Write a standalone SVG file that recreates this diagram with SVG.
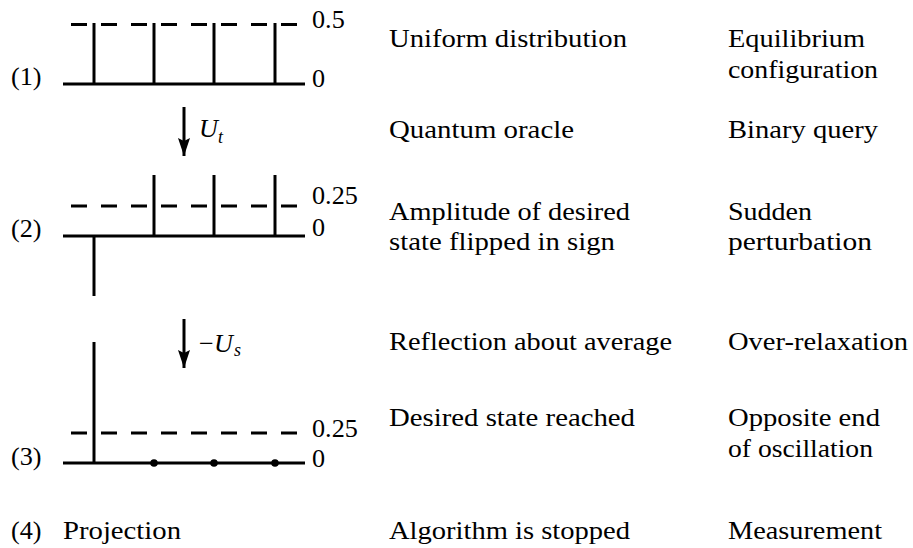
<svg xmlns="http://www.w3.org/2000/svg" width="913" height="548" viewBox="0 0 913 548">
<defs>
<style>
.ax{stroke:#000;stroke-width:3;fill:none}
.dash{stroke:#000;stroke-width:3;fill:none;stroke-dasharray:16 14}
.arr{stroke:#000;stroke-width:3;fill:none}
</style>
<marker id="ah" markerUnits="userSpaceOnUse" markerWidth="12" markerHeight="20" viewBox="0 0 12 20" refX="6" refY="18" orient="0">
<path d="M0,0 L6,3 L12,0 L6,18 Z" fill="#000"/>
</marker>
</defs>
<rect width="913" height="548" fill="#fff"/>

<g id="stage1">
<line class="ax" x1="63" y1="84" x2="305" y2="84"/>
<line class="dash" x1="71" y1="24.5" x2="298" y2="24.5"/>
<line class="ax" x1="94" y1="84" x2="94" y2="23"/>
<line class="ax" x1="154" y1="84" x2="154" y2="23"/>
<line class="ax" x1="214" y1="84" x2="214" y2="23"/>
<line class="ax" x1="275" y1="84" x2="275" y2="23"/>
<text x="11" y="85" font-family="Liberation Serif" font-size="26.2">(1)</text>
<text x="312" y="28" font-family="Liberation Serif" font-size="26.2">0.5</text>
<text x="312" y="87" font-family="Liberation Serif" font-size="26.2">0</text>
</g>

<g id="stage2">
<line class="ax" x1="63" y1="236" x2="305" y2="236"/>
<line class="dash" x1="71" y1="206" x2="298" y2="206"/>
<line class="ax" x1="94" y1="236" x2="94" y2="296"/>
<line class="ax" x1="154" y1="236" x2="154" y2="175"/>
<line class="ax" x1="214" y1="236" x2="214" y2="175"/>
<line class="ax" x1="275" y1="236" x2="275" y2="175"/>
<text x="11" y="237" font-family="Liberation Serif" font-size="26.2">(2)</text>
<text x="312" y="204" font-family="Liberation Serif" font-size="26.2">0.25</text>
<text x="312" y="236" font-family="Liberation Serif" font-size="26.2">0</text>
</g>

<g id="stage3">
<line class="ax" x1="63" y1="463" x2="305" y2="463"/>
<line class="dash" x1="71" y1="433" x2="298" y2="433"/>
<line class="ax" x1="94" y1="463" x2="94" y2="342"/>
<circle cx="154" cy="463" r="3.8" fill="#000"/>
<circle cx="214" cy="463" r="3.8" fill="#000"/>
<circle cx="275" cy="463" r="3.8" fill="#000"/>
<text x="11" y="465" font-family="Liberation Serif" font-size="26.2">(3)</text>
<text x="312" y="437" font-family="Liberation Serif" font-size="26.2">0.25</text>
<text x="312" y="467" font-family="Liberation Serif" font-size="26.2">0</text>
</g>

<g id="connectors">
<line class="arr" x1="184" y1="107" x2="184" y2="156" marker-end="url(#ah)"/>
<line class="arr" x1="184" y1="319" x2="184" y2="368" marker-end="url(#ah)"/>
</g>

<g id="labelUt">
<text x="199" y="137" font-family="Liberation Serif" font-size="26.2" font-style="italic">U</text>
<text x="218" y="143" font-family="Liberation Serif" font-size="18" font-style="italic">t</text>
</g>
<g id="labelUs">
<text x="199" y="352" font-family="Liberation Serif" font-size="26.2">&#8722;</text>
<text x="214" y="352" font-family="Liberation Serif" font-size="26.2" font-style="italic">U</text>
<text x="234" y="356" font-family="Liberation Serif" font-size="18" font-style="italic">s</text>
</g>

<g id="col1">
<text x="389" y="47" font-family="Liberation Serif" font-size="26.2" textLength="238" lengthAdjust="spacingAndGlyphs">Uniform distribution</text>
<text x="389" y="138" font-family="Liberation Serif" font-size="26.2" textLength="185" lengthAdjust="spacingAndGlyphs">Quantum oracle</text>
<text x="389" y="220" font-family="Liberation Serif" font-size="26.2" textLength="241" lengthAdjust="spacingAndGlyphs">Amplitude of desired</text>
<text x="389" y="250" font-family="Liberation Serif" font-size="26.2" textLength="226" lengthAdjust="spacingAndGlyphs">state flipped in sign</text>
<text x="389" y="350" font-family="Liberation Serif" font-size="26.2" textLength="283" lengthAdjust="spacingAndGlyphs">Reflection about average</text>
<text x="389" y="426" font-family="Liberation Serif" font-size="26.2" textLength="246" lengthAdjust="spacingAndGlyphs">Desired state reached</text>
<text x="389" y="539" font-family="Liberation Serif" font-size="26.2" textLength="241" lengthAdjust="spacingAndGlyphs">Algorithm is stopped</text>
</g>

<g id="col2">
<text x="728" y="47" font-family="Liberation Serif" font-size="26.2" textLength="137" lengthAdjust="spacingAndGlyphs">Equilibrium</text>
<text x="728" y="78" font-family="Liberation Serif" font-size="26.2" textLength="150" lengthAdjust="spacingAndGlyphs">configuration</text>
<text x="728" y="138" font-family="Liberation Serif" font-size="26.2" textLength="150" lengthAdjust="spacingAndGlyphs">Binary query</text>
<text x="728" y="220" font-family="Liberation Serif" font-size="26.2" textLength="84" lengthAdjust="spacingAndGlyphs">Sudden</text>
<text x="728" y="250" font-family="Liberation Serif" font-size="26.2" textLength="144" lengthAdjust="spacingAndGlyphs">perturbation</text>
<text x="728" y="350" font-family="Liberation Serif" font-size="26.2" textLength="180" lengthAdjust="spacingAndGlyphs">Over-relaxation</text>
<text x="728" y="426" font-family="Liberation Serif" font-size="26.2" textLength="152" lengthAdjust="spacingAndGlyphs">Opposite end</text>
<text x="728" y="457" font-family="Liberation Serif" font-size="26.2" textLength="145" lengthAdjust="spacingAndGlyphs">of oscillation</text>
<text x="728" y="539" font-family="Liberation Serif" font-size="26.2" textLength="154" lengthAdjust="spacingAndGlyphs">Measurement</text>
</g>

<g id="stage4">
<text x="11" y="539" font-family="Liberation Serif" font-size="26.2">(4)</text>
<text x="63" y="539" font-family="Liberation Serif" font-size="26.2" textLength="118" lengthAdjust="spacingAndGlyphs">Projection</text>
</g>
</svg>
